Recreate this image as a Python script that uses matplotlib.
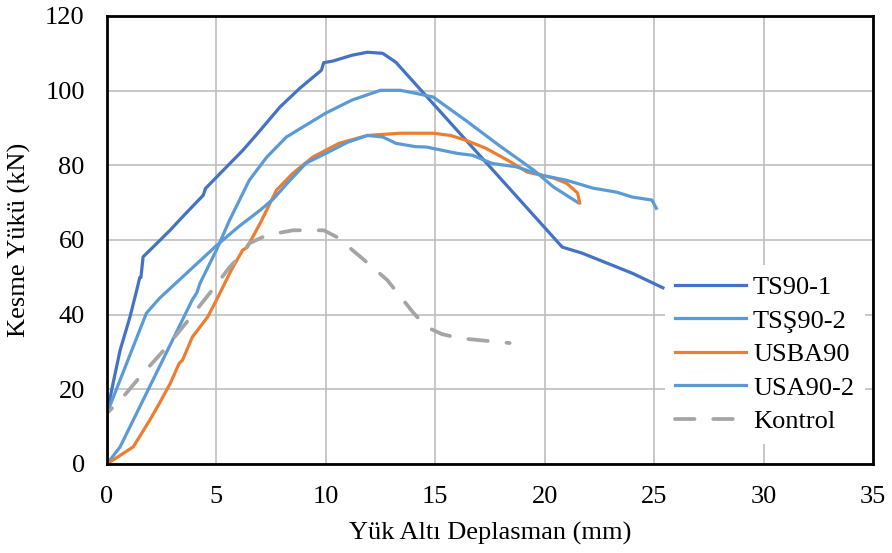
import matplotlib.pyplot as plt

plt.rcParams['font.family'] = ['Liberation Serif', 'DejaVu Serif']

# TS90-1
ts1_x = [0, 0.28, 0.6, 1.05, 1.36, 1.5, 1.55, 1.65, 2.0, 2.88, 3.5, 4.4, 4.5, 5.0, 6.2, 6.8, 7.9, 8.8,
         9.7, 9.8, 9.9, 10.3, 11.2, 11.9, 12.6, 13.2, 20.8, 21.7, 24.0, 25.4]
ts1_y = [13.6, 21.7, 30.5, 39.4, 46.6, 50, 50, 55.5, 57.5, 62.6, 66.5, 72, 73.8, 76.8, 84, 88, 95.6, 100.6,
         105, 105.5, 107.5, 107.9, 109.5, 110.3, 110, 107.6, 58.1, 56.5, 51.1, 47.2]

# TSŞ90-2
tss_x = [0, 0.6, 3.9, 4.1, 4.25, 5.0, 5.6, 5.76, 6.5, 7.3, 8.2, 9.1, 10.0, 11.2, 12.5, 13.4, 14.1, 14.9,
         16.4, 17.9, 19.5, 20.4, 21.5]
tss_y = [0, 4.6, 44, 45.8, 48.4, 57.3, 65.3, 67.2, 76, 82.2, 87.6, 90.8, 94, 97.5, 100.1, 100.1, 99.3, 98.3,
         92, 85.4, 78.7, 74.2, 70.1]

# USBA90
usba_x = [0, 1.2, 1.96, 2.4, 2.9, 3.3, 3.45, 3.9, 4.6, 5.0, 5.6, 5.75, 6.2, 6.4, 7.0, 7.75, 8.5, 9.4, 10.6,
          11.9, 13.4, 14.9, 15.7, 16.4, 17.3, 18.3, 19.2, 20.4, 21.0, 21.5, 21.6]
usba_y = [0, 4.6, 11.8, 16.3, 21.7, 27, 27.8, 34, 39.4, 43.9, 51, 52.7, 57.3, 58, 64.5, 73.4, 77.9, 82.2, 85.9,
          88, 88.6, 88.6, 88, 86.7, 84.6, 81.4, 78.2, 76.6, 75.2, 72.6, 69.9]

# USA90-2
usa_x = [0, 0, 1.8, 2.4, 5.0, 6.0, 7.0, 7.6, 8.36, 9.1, 10, 11, 11.9, 12.6, 13.2, 14.1, 14.6, 16, 16.7, 17.6,
         18.7, 19.9, 21, 22.2, 23.3, 24, 24.9, 25.1]
usa_y = [0, 13.6, 40.4, 44.4, 58.5, 63.5, 68, 71, 76, 80.6, 83.2, 86.2, 88, 87.6, 85.9, 85, 84.9, 83.2, 82.7, 80.5,
         79.6, 77.3, 76, 73.9, 72.8, 71.5, 70.7, 68.5]

# Kontrol
kon_x = [0, 0, 0.74, 1.5, 2.6, 3.6, 4.7, 5.6, 6.2, 6.5, 7.3, 8.5, 9.9, 10.5, 11.6, 12.8, 14.0, 14.6, 15.3, 16.1, 18.4]
kon_y = [0, 13.6, 18, 23.3, 30.5, 37.7, 45.8, 52.7, 56.5, 59.1, 61.3, 62.6, 62.6, 60.8, 55.4, 49.3, 40.5, 36.7, 34.8, 33.7, 32.4]

fig = plt.figure(figsize=(8.92, 5.53), dpi=100)
ax = fig.add_axes([107 / 892, 1 - 464 / 553, 766 / 892, 448 / 553])

lw = 2.3
ax.plot(ts1_x, ts1_y, color='#4472C4', lw=lw, label='TS90-1')
ax.plot(tss_x, tss_y, color='#5B9BD5', lw=lw, label='TSŞ90-2')
ax.plot(usba_x, usba_y, color='#ED7D31', lw=lw, label='USBA90')
ax.plot(usa_x, usa_y, color='#5B9BD5', lw=lw, label='USA90-2')
ax.plot(kon_x, kon_y, color='#A5A5A5', lw=lw + 0.4, dashes=(5.2, 5), dash_capstyle='round', label='Kontrol')

ax.set_xlim(0, 35)
ax.set_ylim(0, 120)
ax.set_xticks(range(0, 36, 5))
ax.set_yticks(range(0, 121, 20))
ax.grid(True, color='#BFBFBF', lw=1.2)
ax.set_axisbelow(True)
for s in ax.spines.values():
    s.set_linewidth(2)
    s.set_color('black')
ax.tick_params(length=0, labelsize=19, pad=16)

ax.set_xlabel('Yük Altı Deplasman (mm)', fontsize=19, labelpad=10)
ax.set_ylabel('Kesme Yükü (kN)', fontsize=19, labelpad=10)

leg = ax.legend(loc='upper left', bbox_to_anchor=(0.728, 0.444), fontsize=19, frameon=True,
                fancybox=False, edgecolor='none', facecolor='white', framealpha=1,
                borderaxespad=0, handlelength=2.7, handletextpad=0.25, labelspacing=0.38)

plt.savefig('out.png', dpi=100)
